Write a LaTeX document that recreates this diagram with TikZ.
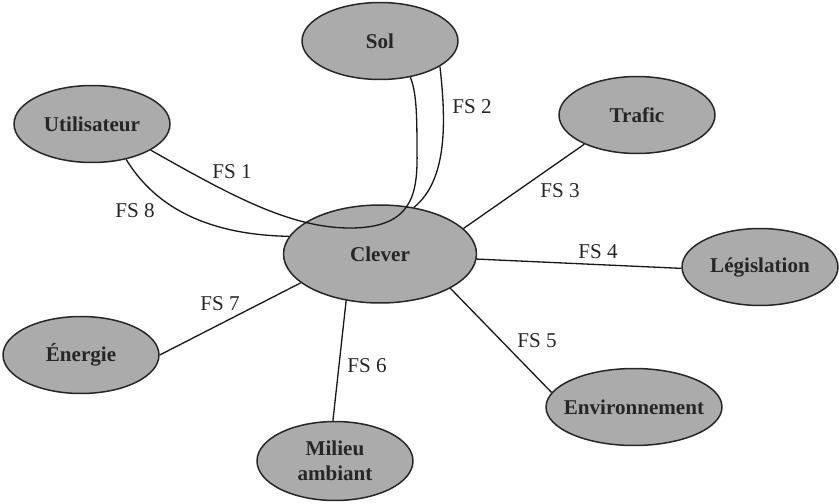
\documentclass[tikz,border=0pt]{standalone}
\usepackage{fontspec}
\setmainfont{Liberation Serif}
\usetikzlibrary{shapes.geometric}
\begin{document}
\begin{tikzpicture}[x=0.02cm,y=-0.02cm,
	bloc/.style={ellipse,draw=black!85,line width=0.85pt,fill=\BLOCCOLOR,inner sep=0pt,
		minimum width=3.12cm,minimum height=1.54cm,font=\fontsize{12}{14}\selectfont\bfseries,
		text=black!85,align=center},
	lien/.style={draw=black!90,line width=0.75pt},
	fs/.style={font=\fontsize{12}{14}\selectfont,text=black!85}]

\def\BLOCCOLOR{black!33}
	\useasboundingbox (0,0) rectangle (839,504);
	\node[bloc] (sol) at (380,41) {Sol};
	\node[bloc] (util) at (92,124) {Utilisateur};
	\node[bloc] (trafic) at (637,115) {Trafic};
	\node[bloc,minimum width=3.86cm,minimum height=1.96cm] (clever) at (380,254) {Clever};
	\node[bloc] (legis) at (760,267) {Législation};
	\node[bloc] (energie) at (81,355) {Énergie};
	\node[bloc,minimum height=1.58cm] (milieu) at (335,461) {Milieu\\ambiant};
	\node[bloc,minimum width=3.52cm,inner xsep=-5pt] (envir) at (634,407) {Environnement};

	\draw[lien] (util.336) .. controls (230,195) and (290,228) .. (350,228)
		.. controls (412,228) and (418,195) .. (417,150) .. controls (417,110) and (416,92) .. (sol.310);
	\draw[lien] (sol.337) .. controls (446,120) and (448,180) .. (clever.54);
	\draw[lien] (clever.17.6) -- (trafic.209);
	\draw[lien] (clever.-3.5) -- (legis.181);
	\draw[lien] (clever.334) -- (envir.170);
	\draw[lien] (clever.234) -- (milieu.93);
	\draw[lien] (clever.200.6) -- (energie.0);
	\draw[lien] (util.314) .. controls (160,215) and (220,235) .. (clever.169);

	\node[fs] (fs1) at (232,172) {FS 1};
	\node[fs] (fs2) at (472,107) {FS 2};
	\node[fs] (fs3) at (560,191) {FS 3};
	\node[fs] (fs4) at (598,252) {FS 4};
	\node[fs] (fs5) at (537,341) {FS 5};
	\node[fs] (fs6) at (367,366) {FS 6};
	\node[fs] (fs7) at (220,304) {FS 7};
	\node[fs] (fs8) at (135,211) {FS 8};

\end{tikzpicture}
\end{document}
